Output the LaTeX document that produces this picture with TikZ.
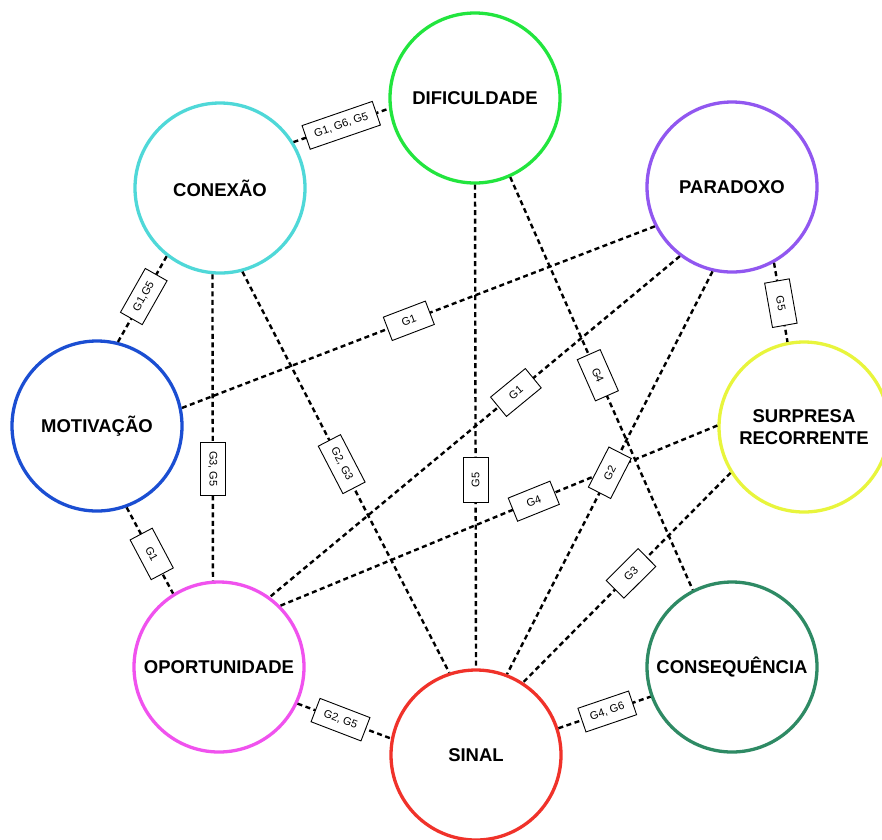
\documentclass[tikz,border=0pt]{standalone}
\usepackage{fontspec}
\setmainfont{Liberation Sans}
\definecolor{cdif}{HTML}{22E53E}
\definecolor{ccon}{HTML}{4FD8D8}
\definecolor{cpar}{HTML}{9157F0}
\definecolor{cmot}{HTML}{1B4ED2}
\definecolor{csur}{HTML}{E8F53C}
\definecolor{copo}{HTML}{F052EE}
\definecolor{csin}{HTML}{F0322A}
\definecolor{ccns}{HTML}{2E8A64}
\tikzset{
  topic/.style={circle, draw=#1, line width=3.3pt, minimum size=170pt, inner sep=0pt,
    fill=white, text=black, align=center, font=\fontsize{18.5}{22}\selectfont\bfseries},
  link/.style={black, line width=2.4pt, dash pattern=on 5pt off 3.5pt},
  tag/.style={draw=black, solid, line width=0.9pt, fill=white, text=black,
    font=\fontsize{11}{13}\selectfont, minimum width=45pt, minimum height=25pt,
    inner xsep=9pt, inner ysep=3pt},
}
\begin{document}
\begin{tikzpicture}[x=1pt, y=-1pt]
  \useasboundingbox (0,0) rectangle (882,839);

  % themes
  \node[topic=cdif] (dif) at (475,98)  {DIFICULDADE};
  \node[topic=ccon] (con) at (220,188) {CONEXÃO};
  \node[topic=cpar] (par) at (732,187) {PARADOXO};
  \node[topic=cmot] (mot) at (97,426)  {MOTIVAÇÃO};
  \node[topic=csur] (sur) at (804,427) {SURPRESA\\RECORRENTE};
  \node[topic=copo] (opo) at (219,667) {OPORTUNIDADE};
  \node[topic=ccns] (cns) at (732,667) {CONSEQUÊNCIA};
  \node[topic=csin] (sin) at (476,755) {SINAL};

  % links between themes
  \draw[link] (con.32)  -- (dif.187);
  \draw[link] (con.232) -- (mot.76);
  \draw[link] (con.265) -- (opo.94);
  \draw[link] (con.285) -- (sin.108);
  \draw[link] (dif.270) -- (sin.90);
  \draw[link] (dif.294) -- (cns.117);
  \draw[link] (par.207) -- (mot.12);
  \draw[link] (par.233) -- (opo.54);
  \draw[link] (par.257) -- (sin.69);
  \draw[link] (par.299) -- (sur.101);
  \draw[link] (sur.179) -- (opo.45);
  \draw[link] (sur.212) -- (sin.57);
  \draw[link] (mot.290) -- (opo.122);
  \draw[link] (opo.335) -- (sin.169);
  \draw[link] (sin.18)  -- (cns.200);

  % group tags, set on top of every link
  \path (con.32)  -- node[tag, pos=0.5,  rotate=19]    {G1, G6, G5} (dif.187);
  \path (con.232) -- node[tag, pos=0.47, rotate=60.5]  {G1,G5}      (mot.76);
  \path (con.265) -- node[tag, pos=0.635, rotate=-90]  {G3, G5}     (opo.94);
  \path (con.285) -- node[tag, pos=0.48, rotate=-62.6] {G2, G3}     (sin.108);
  \path (dif.270) -- node[tag, pos=0.61, rotate=90]    {G5}         (sin.90);
  \path (dif.294) -- node[tag, pos=0.48, rotate=-66.2] {G4}         (cns.117);
  \path (par.207) -- node[tag, pos=0.52, rotate=20.9]  {G1}         (mot.12);
  \path (par.233) -- node[tag, pos=0.40, rotate=39.4]  {G1}         (opo.54);
  \path (par.257) -- node[tag, pos=0.50, rotate=62.9]  {G2}         (sin.69);
  \path (par.299) -- node[tag, pos=0.51, rotate=-80]   {G5}         (sur.101);
  \path (sur.179) -- node[tag, pos=0.42, rotate=22]    {G4}         (opo.45);
  \path (sur.212) -- node[tag, pos=0.48, rotate=44.9]  {G3}         (sin.57);
  \path (mot.290) -- node[tag, pos=0.54, rotate=-62.1] {G1}         (opo.122);
  \path (opo.335) -- node[tag, pos=0.46, rotate=-21]   {G2, G5}     (sin.169);
  \path (sin.18)  -- node[tag, pos=0.53, rotate=18.8]  {G4, G6}     (cns.200);
\end{tikzpicture}
\end{document}
